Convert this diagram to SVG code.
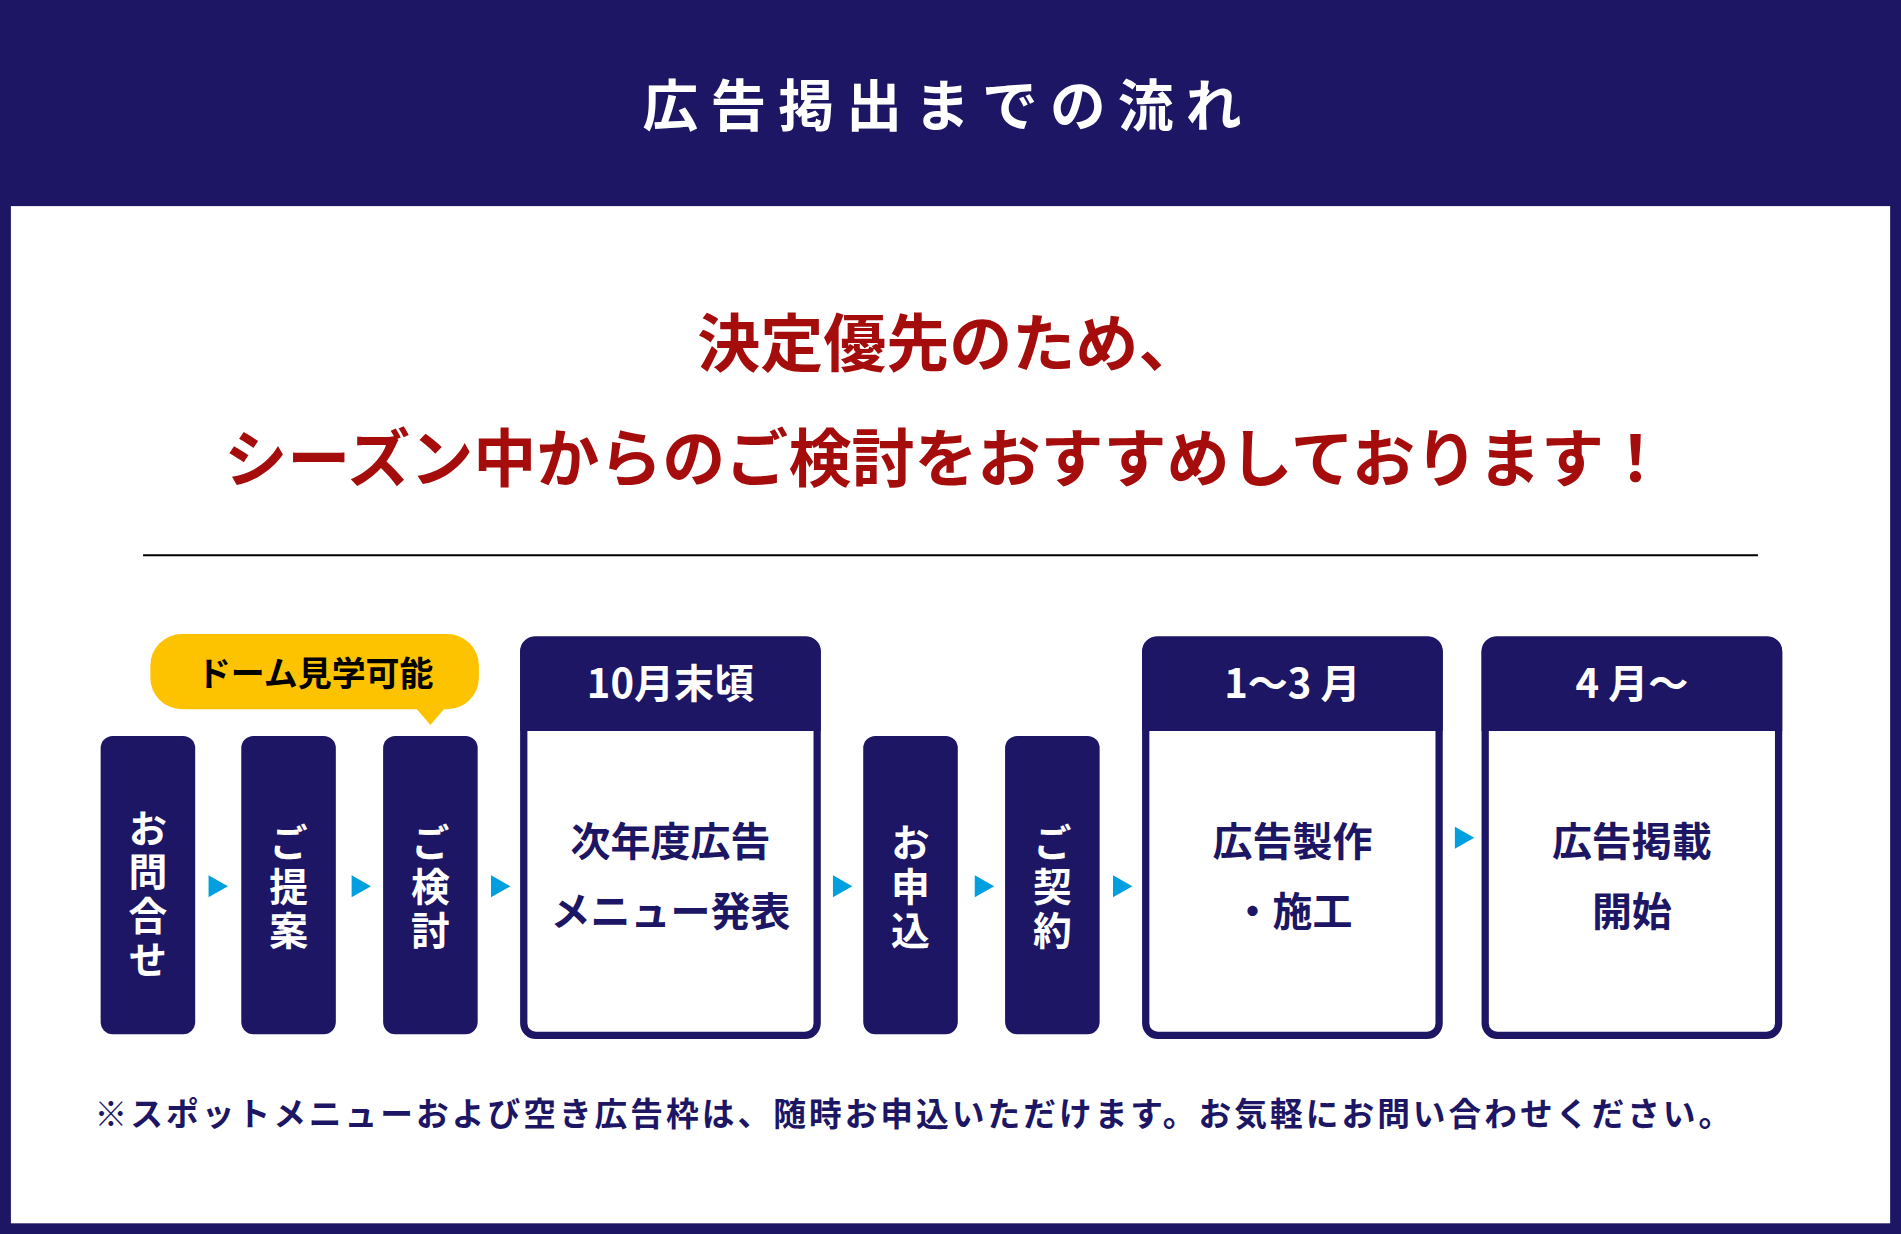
<svg xmlns="http://www.w3.org/2000/svg" width="1901" height="1234" viewBox="0 0 1901 1234">
<style>
text{font-family:"Noto Sans CJK JP","Noto Sans",sans-serif;font-weight:700;text-anchor:middle}
.nv{fill:#1c1664}
.vb{fill:#1c1664}
.bb{fill:#fff;stroke:#1c1664;stroke-width:6}
.ar{fill:#00a0e0}
.vt{fill:#fff;font-size:32px;writing-mode:vertical-rl;letter-spacing:4px}
.bt{fill:#1c1664;font-size:33px}
.ht{fill:#fff;font-size:33px}
</style>
<rect width="1901" height="1234" fill="#1c1664"/>
<g transform="scale(1.2124)">
<rect x="9" y="170" width="1550" height="839" fill="#fff"/>
<text x="782" y="104" fill="#fff" font-size="46" letter-spacing="10" font-weight="900">広告掲出までの流れ</text>
<text x="783" y="302" fill="#a50d0d" font-size="52" font-weight="900">決定優先のため、</text>
<text x="780" y="397" fill="#a50d0d" font-size="52" font-weight="900">シーズン中からのご検討をおすすめしております！</text>
<line x1="118" y1="458" x2="1450" y2="458" stroke="#000" stroke-width="1.5"/>
<g id="bubble">
<rect x="124" y="523" width="271" height="62" rx="26" fill="#fdc300"/>
<path d="M343 584 L367 584 L355 598 Z" fill="#fdc300"/>
<text x="260" y="566" font-size="28" fill="#000" font-weight="900">ドーム見学可能</text>
</g>
<g id="n1"><rect class="vb" x="83" y="607" width="78" height="246" rx="10"/>
<text class="vt" x="122" y="739">お問合せ</text></g>
<g id="n2"><rect class="vb" x="199" y="607" width="78" height="246" rx="10"/>
<text class="vt" x="238" y="733">ご提案</text></g>
<g id="n3"><rect class="vb" x="316" y="607" width="78" height="246" rx="10"/>
<text class="vt" x="355" y="733">ご検討</text></g>
<g id="n4"><rect class="bb" x="432" y="528" width="242" height="326" rx="10"/>
<path class="nv" d="M429 603 V537 a12 12 0 0 1 12 -12 H665 a12 12 0 0 1 12 12 V603 Z"/>
<text class="ht" x="553" y="576">10月末頃</text>
<text class="bt" x="553" y="706">次年度広告</text><text class="bt" x="553" y="764">メニュー発表</text></g>
<g id="n5"><rect class="vb" x="712" y="607" width="78" height="246" rx="10"/>
<text class="vt" x="751" y="733">お申込</text></g>
<g id="n6"><rect class="vb" x="829" y="607" width="78" height="246" rx="10"/>
<text class="vt" x="868" y="733">ご契約</text></g>
<g id="n7"><rect class="bb" x="945" y="528" width="242" height="326" rx="10"/>
<path class="nv" d="M942 603 V537 a12 12 0 0 1 12 -12 H1178 a12 12 0 0 1 12 12 V603 Z"/>
<text class="ht" x="1066" y="576">1～3 月</text>
<text class="bt" x="1066" y="706">広告製作</text><text class="bt" x="1066" y="764">・施工</text></g>
<g id="n8"><rect class="bb" x="1225" y="528" width="242" height="326" rx="10"/>
<path class="nv" d="M1222 603 V537 a12 12 0 0 1 12 -12 H1458 a12 12 0 0 1 12 12 V603 Z"/>
<text class="ht" x="1346" y="576">4 月～</text>
<text class="bt" x="1346" y="706">広告掲載</text><text class="bt" x="1346" y="764">開始</text></g>
<g id="connectors">
<path class="ar" d="M172 722 L188 731 L172 740 Z"/>
<path class="ar" d="M290 722 L306 731 L290 740 Z"/>
<path class="ar" d="M405 722 L421 731 L405 740 Z"/>
<path class="ar" d="M687 722 L703 731 L687 740 Z"/>
<path class="ar" d="M804 722 L820 731 L804 740 Z"/>
<path class="ar" d="M918 722 L934 731 L918 740 Z"/>
<path class="ar" d="M1200 682 L1216 691 L1200 700 Z"/>
</g>
<text x="78" y="929" class="nv" font-size="27" textLength="1350" lengthAdjust="spacing" style="text-anchor:start">※スポットメニューおよび空き広告枠は、随時お申込いただけます。お気軽にお問い合わせください。</text>
</g>
</svg>
